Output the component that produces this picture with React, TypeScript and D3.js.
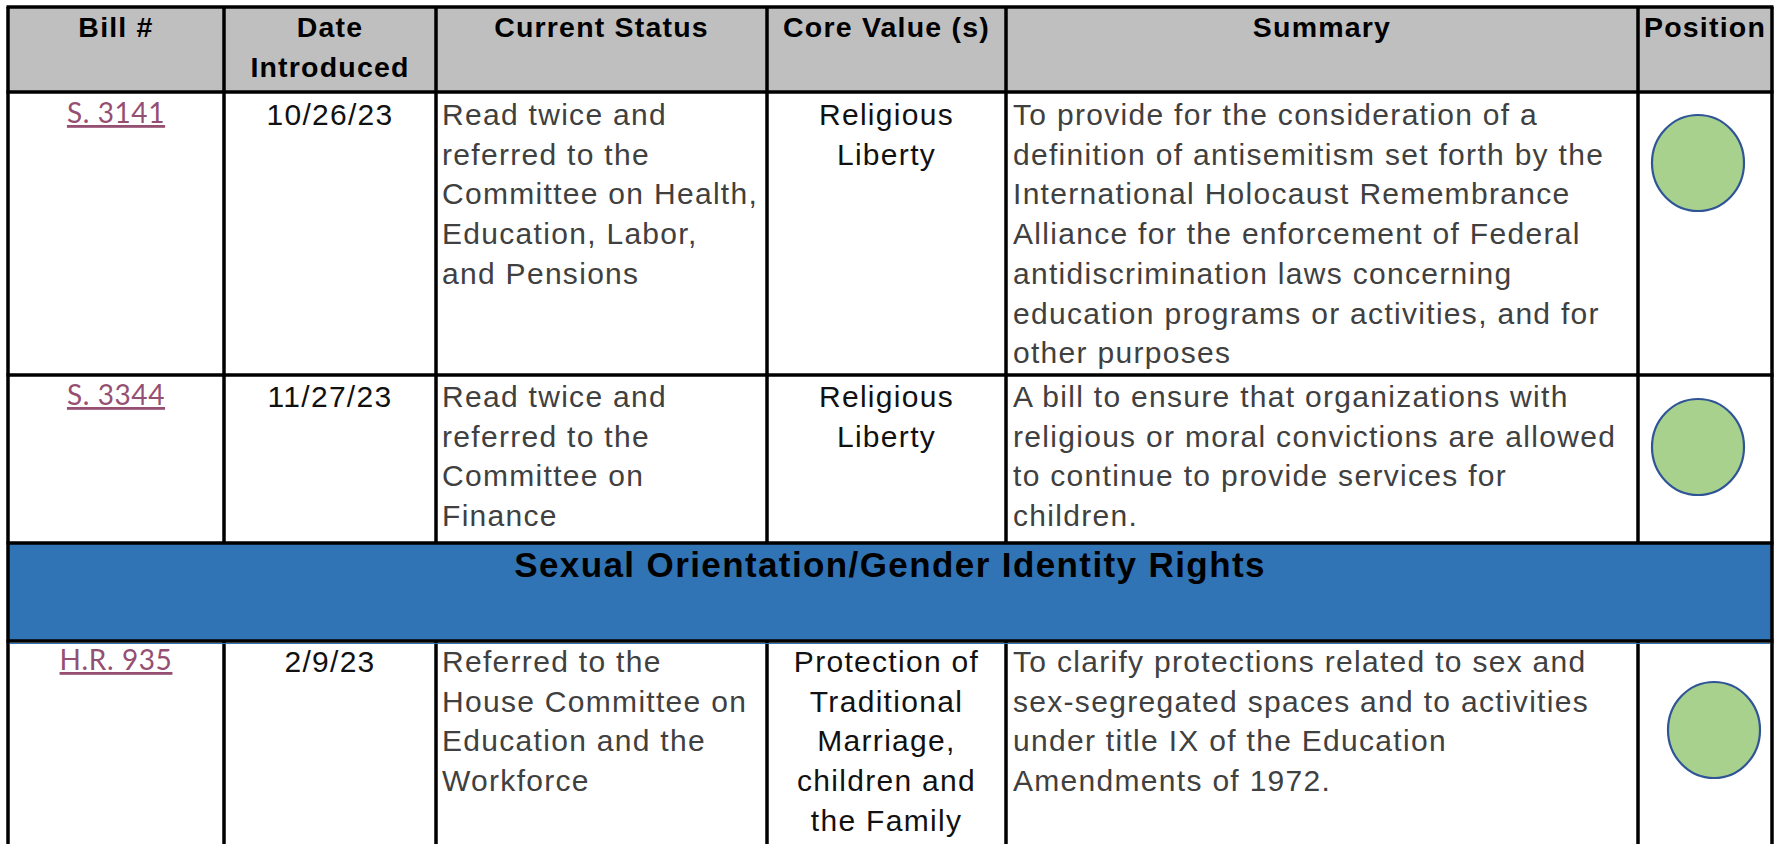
import { useEffect, useRef } from "react";
import * as d3 from "d3";

// table content
const headers = ["Bill #", "Date|Introduced", "Current Status", "Core Value (s)", "Summary", "Position"];

const bills = ["S. 3141", "S. 3344", "H.R. 935"];
const dates = ["10/26/23", "11/27/23", "2/9/23"];
const statuses = [
  ["Read twice and", "referred to the", "Committee on Health,", "Education, Labor,", "and Pensions"],
  ["Read twice and", "referred to the", "Committee on", "Finance"],
  ["Referred to the", "House Committee on", "Education and the", "Workforce"],
];
const coreValues = [
  ["Religious", "Liberty"],
  ["Religious", "Liberty"],
  ["Protection of", "Traditional", "Marriage,", "children and", "the Family"],
];
const summaries = [
  [
    "To provide for the consideration of a",
    "definition of antisemitism set forth by the",
    "International Holocaust Remembrance",
    "Alliance for the enforcement of Federal",
    "antidiscrimination laws concerning",
    "education programs or activities, and for",
    "other purposes",
  ],
  [
    "A bill to ensure that organizations with",
    "religious or moral convictions are allowed",
    "to continue to provide services for",
    "children.",
  ],
  [
    "To clarify protections related to sex and",
    "sex-segregated spaces and to activities",
    "under title IX of the Education",
    "Amendments of 1972.",
  ],
];
const positions = ["support", "support", "support"];
const sectionTitle = "Sexual Orientation/Gender Identity Rights";

// layout (page pixels)
const colEdges = [8, 224, 436, 767, 1006, 1638, 1772];
const tableTop = 7;
const headerBottom = 92;
// rows: [top, bottom, first baseline offset]
const rowLayout = [
  { top: 92, bottom: 375, base: 33 },
  { top: 375, bottom: 543, base: 32 },
  { top: 641, bottom: 860, base: 31 },
];
const band = { top: 543, bottom: 641 };
const circleLayout = [
  { dx: 0, dy: 71 },
  { dx: 0, dy: 72 },
  { dx: 16, dy: 89 },
];
const lineH = 39.7;

const BODY_FONT = "'Liberation Sans', Arial, sans-serif";

export default function App() {
  const svgRef = useRef<SVGSVGElement>(null);

  useEffect(() => {
    if (!svgRef.current) return;
    const svg = d3.select(svgRef.current);
    svg.selectAll("*").remove();

    const colX = (i: number) => colEdges[i];
    const colMid = (i: number) => (colEdges[i] + colEdges[i + 1]) / 2;
    const left = colEdges[0];
    const right = colEdges[colEdges.length - 1];

    // header background
    svg
      .append("rect")
      .attr("x", left)
      .attr("y", tableTop)
      .attr("width", right - left)
      .attr("height", headerBottom - tableTop)
      .attr("fill", "#bfbfbf");

    // section band
    svg
      .append("rect")
      .attr("x", left)
      .attr("y", band.top)
      .attr("width", right - left)
      .attr("height", band.bottom - band.top)
      .attr("fill", "#3074b5");

    // header labels
    headers.forEach((h, i) => {
      const t = svg
        .append("text")
        .attr("text-anchor", "middle")
        .attr("font-family", BODY_FONT)
        .attr("font-weight", "bold")
        .attr("font-size", 28.5)
        .attr("letter-spacing", 1.2)
        .attr("fill", "#000");
      h.split("|").forEach((line, j) => {
        t.append("tspan")
          .attr("x", colMid(i))
          .attr("y", 37 + j * 40)
          .text(line);
      });
    });

    // section title
    svg
      .append("text")
      .attr("x", (left + right) / 2)
      .attr("y", 577)
      .attr("text-anchor", "middle")
      .attr("font-family", BODY_FONT)
      .attr("font-weight", "bold")
      .attr("font-size", 35)
      .attr("letter-spacing", 1.4)
      .attr("fill", "#000")
      .text(sectionTitle);

    const multiLine = (
      lines: string[],
      x: number,
      y0: number,
      anchor: string,
      color: string
    ) => {
      const t = svg
        .append("text")
        .attr("text-anchor", anchor)
        .attr("font-family", BODY_FONT)
        .attr("font-size", 30)
        .attr("letter-spacing", 1.3)
        .attr("fill", color);
      lines.forEach((line, j) => {
        t.append("tspan")
          .attr("x", x)
          .attr("y", y0 + j * lineH)
          .text(line);
      });
    };

    rowLayout.forEach((r, i) => {
      const y0 = r.top + r.base;

      // bill link
      svg
        .append("text")
        .attr("x", colMid(0))
        .attr("y", y0 - 2)
        .attr("text-anchor", "middle")
        .attr("font-family", "Lato, 'Open Sans', sans-serif")
        .attr("font-size", 28)
        .attr("letter-spacing", 0.6)
        .attr("fill", "#954f72")
        .attr("text-decoration", "underline")
        .text(bills[i]);

      multiLine([dates[i]], colMid(1), y0, "middle", "#111");
      multiLine(statuses[i], colX(2) + 6, y0, "start", "#404040");
      multiLine(coreValues[i], colMid(3), y0, "middle", "#111");
      multiLine(summaries[i], colX(4) + 7, y0, "start", "#404040");

      if (positions[i] === "support") {
        svg
          .append("ellipse")
          .attr("cx", colMid(5) - 7 + circleLayout[i].dx)
          .attr("cy", r.top + circleLayout[i].dy)
          .attr("rx", 46)
          .attr("ry", 48)
          .attr("fill", "#a9d18e")
          .attr("stroke", "#2f5597")
          .attr("stroke-width", 2.2);
      }
    });

    // grid lines
    const lines = svg.append("g").attr("stroke", "#000").attr("stroke-width", 3.5);
    const hLines = [tableTop, headerBottom, rowLayout[0].bottom, band.top, band.bottom];
    hLines.forEach((y) => {
      lines.append("line").attr("x1", left - 1.5).attr("x2", right + 1.5).attr("y1", y).attr("y2", y);
    });
    colEdges.forEach((x, i) => {
      const isOuter = i === 0 || i === colEdges.length - 1;
      lines.append("line").attr("x1", x).attr("x2", x).attr("y1", tableTop).attr("y2", band.top);
      if (isOuter) {
        lines.append("line").attr("x1", x).attr("x2", x).attr("y1", band.top).attr("y2", band.bottom);
      }
      lines.append("line").attr("x1", x).attr("x2", x).attr("y1", band.bottom).attr("y2", 860);
    });
    // thin blue line under the band
    svg
      .append("line")
      .attr("x1", left + 2)
      .attr("x2", right - 2)
      .attr("y1", band.bottom + 2.5)
      .attr("y2", band.bottom + 2.5)
      .attr("stroke", "#3074b5")
      .attr("stroke-width", 1);
  }, []);

  return (
    <svg
      ref={svgRef}
      width={1775}
      height={844}
      style={{ position: "absolute", left: 0, top: 0, display: "block", background: "#fff" }}
    />
  );
}
